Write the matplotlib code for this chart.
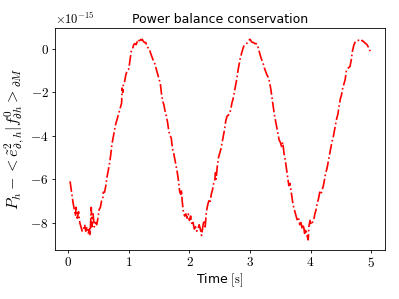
import matplotlib
matplotlib.use('Agg')
import matplotlib.pyplot as plt
from matplotlib.ticker import ScalarFormatter

plt.rcParams['mathtext.fontset'] = 'cm'

# time [s]
time = [0.03, 0.04, 0.06, 0.08, 0.10, 0.12, 0.13, 0.15, 0.17, 0.19, 0.21, 0.23, 0.25, 0.27, 0.29,
        0.31, 0.33, 0.35, 0.36, 0.37, 0.38, 0.39, 0.41, 0.43, 0.45, 0.47, 0.49, 0.51, 0.53, 0.55,
        0.57, 0.58, 0.60, 0.62, 0.64, 0.66, 0.68, 0.70, 0.72, 0.74, 0.76, 0.78, 0.80, 0.82, 0.84,
        0.86, 0.88, 0.89, 0.90, 0.91, 0.93, 0.95, 0.97, 0.99, 1.00, 1.02, 1.04, 1.06, 1.08, 1.10,
        1.12, 1.14, 1.16, 1.18, 1.20, 1.22, 1.24, 1.26, 1.28, 1.30, 1.32, 1.34, 1.36, 1.38, 1.40,
        1.42, 1.44, 1.46, 1.48, 1.50, 1.52, 1.54, 1.56, 1.58, 1.60, 1.62, 1.64, 1.66, 1.68, 1.70,
        1.72, 1.74, 1.76, 1.78, 1.80, 1.82, 1.84, 1.86, 1.87, 1.88, 1.90, 1.92, 1.94, 1.96, 1.98,
        2.00, 2.02, 2.04, 2.06, 2.08, 2.10, 2.12, 2.14, 2.16, 2.18, 2.20, 2.22, 2.24, 2.26, 2.28,
        2.30, 2.32, 2.34, 2.36, 2.38, 2.40, 2.42, 2.43, 2.44, 2.46, 2.48, 2.50, 2.52, 2.54, 2.56,
        2.58, 2.60, 2.62, 2.64, 2.66, 2.68, 2.70, 2.72, 2.74, 2.76, 2.78, 2.80, 2.82, 2.84, 2.86,
        2.88, 2.90, 2.92, 2.94, 2.96, 2.98, 3.00, 3.02, 3.04, 3.06, 3.08, 3.10, 3.12, 3.14, 3.16,
        3.18, 3.20, 3.22, 3.24, 3.26, 3.28, 3.30, 3.32, 3.34, 3.36, 3.38, 3.40, 3.42, 3.44, 3.46,
        3.48, 3.50, 3.52, 3.54, 3.56, 3.58, 3.60, 3.62, 3.64, 3.66, 3.68, 3.70, 3.72, 3.74, 3.76,
        3.78, 3.80, 3.82, 3.84, 3.86, 3.88, 3.90, 3.92, 3.94, 3.96, 3.97, 3.99, 4.01, 4.03, 4.05,
        4.07, 4.09, 4.11, 4.13, 4.15, 4.17, 4.19, 4.21, 4.23, 4.25, 4.27, 4.29, 4.31, 4.33, 4.35,
        4.37, 4.39, 4.41, 4.43, 4.45, 4.47, 4.49, 4.51, 4.53, 4.55, 4.57, 4.59, 4.61, 4.63, 4.65,
        4.67, 4.69, 4.71, 4.73, 4.75, 4.77, 4.79, 4.81, 4.83, 4.85, 4.87, 4.89, 4.91, 4.93, 4.95,
        4.97, 4.98]

# power balance residual, in units of 1e-15
balance = [-6.1, -6.3, -6.7, -7.1, -7.4, -7.7, -7.3, -7.8, -7.5, -8.0, -8.2, -8.4, -8.3, -8.1, -8.4,
           -8.2, -8.5, -8.3, -8.6, -7.9, -7.3, -8.2, -7.6, -8.2, -8.0, -8.1, -7.8, -7.4, -7.3, -7.0,
           -6.9, -6.6, -6.6, -6.3, -5.9, -5.6, -5.3, -4.9, -4.4, -4.1, -3.8, -3.5, -3.3, -3.1, -2.9,
           -2.7, -2.5, -1.8, -2.0, -1.6, -1.5, -1.2, -1.0, -0.95, -0.9, -0.5, -0.1, 0.0, 0.2, 0.25,
           0.2, 0.35, 0.3, 0.5, 0.4, 0.45, 0.35, 0.3, 0.3, 0.1, 0.05, 0.0, -0.2, -0.35, -0.5,
           -0.6, -0.8, -1.0, -1.2, -1.4, -1.6, -2.1, -2.4, -2.6, -2.9, -3.1, -3.4, -3.8, -4.0, -4.1,
           -4.6, -4.8, -5.1, -5.4, -5.7, -6.1, -6.6, -6.7, -6.5, -7.0, -7.5, -7.7, -7.6, -7.8, -7.6,
           -7.9, -7.7, -8.1, -8.0, -8.3, -8.2, -8.4, -8.3, -8.1, -8.3, -8.6, -8.2, -7.9, -8.2, -7.5,
           -7.2, -7.0, -7.1, -6.7, -6.5, -6.2, -6.0, -5.7, -6.0, -5.4, -5.0, -4.8, -4.6, -4.3, -4.0,
           -3.7, -3.3, -3.1, -3.05, -3.0, -2.8, -2.5, -2.3, -2.0, -1.7, -1.4, -1.0, -0.7, -0.4, -0.2,
           0.0, 0.15, 0.2, 0.25, 0.3, 0.4, 0.45, 0.35, 0.3, 0.3, 0.25, 0.25, 0.2, 0.0, -0.2,
           -0.4, -0.55, -0.7, -0.9, -1.05, -1.2, -1.3, -1.5, -1.8, -2.2, -2.6, -3.0, -3.3, -3.6, -3.9,
           -4.2, -4.3, -4.5, -4.3, -4.8, -5.1, -5.5, -5.9, -6.3, -6.2, -6.6, -7.0, -7.3, -7.5, -7.7,
           -7.9, -7.8, -8.1, -8.0, -8.3, -8.1, -8.5, -8.3, -8.6, -8.8, -8.2, -7.9, -8.1, -8.0, -7.9,
           -7.6, -7.4, -7.1, -6.9, -6.6, -6.7, -6.5, -6.3, -6.0, -5.7, -5.5, -5.2, -4.9, -4.6, -4.3,
           -4.1, -3.8, -3.5, -3.2, -3.0, -2.6, -2.3, -2.1, -1.8, -1.6, -1.4, -1.0, -0.9, -0.85, -0.8,
           -0.5, -0.1, 0.15, 0.3, 0.35, 0.4, 0.4, 0.4, 0.35, 0.4, 0.35, 0.3, 0.25, 0.2, 0.1,
           0.0, -0.1]


class CMFormatter(ScalarFormatter):
    # drop \mathdefault so the numbers come out in Computer Modern
    def __call__(self, x, pos=None):
        return super().__call__(x, pos).replace(r'\mathdefault', '')

    def get_offset(self):
        return super().get_offset().replace(r'\mathdefault', '')


fig = plt.figure(figsize=(3.99, 2.99), dpi=100)
ax = fig.add_axes([0.138, 0.164, 0.827, 0.742])
ax.plot(time, [b * 1e-15 for b in balance], 'r-.', linewidth=1.2)

ax.xaxis.set_major_formatter(CMFormatter(useMathText=True))
ax.yaxis.set_major_formatter(CMFormatter(useMathText=True))
ax.tick_params(labelsize=9.5, length=2.3, width=0.6, pad=2.3)
ax.yaxis.get_offset_text().set_fontsize(9)
for s in ax.spines.values():
    s.set_linewidth(0.6)

ax.set_xlabel(r'Time $[\mathrm{s}]$', fontsize=9, labelpad=0.5)
ax.set_ylabel(r'$P_h - <\tilde{e}^{2}_{\partial,h}|f^{0}_{\partial h}>_{\partial M}$',
              fontsize=11.5, labelpad=2)
ax.set_title('Power balance conservation', fontsize=9, pad=3.7)

fig.savefig('out.png', dpi=100)
